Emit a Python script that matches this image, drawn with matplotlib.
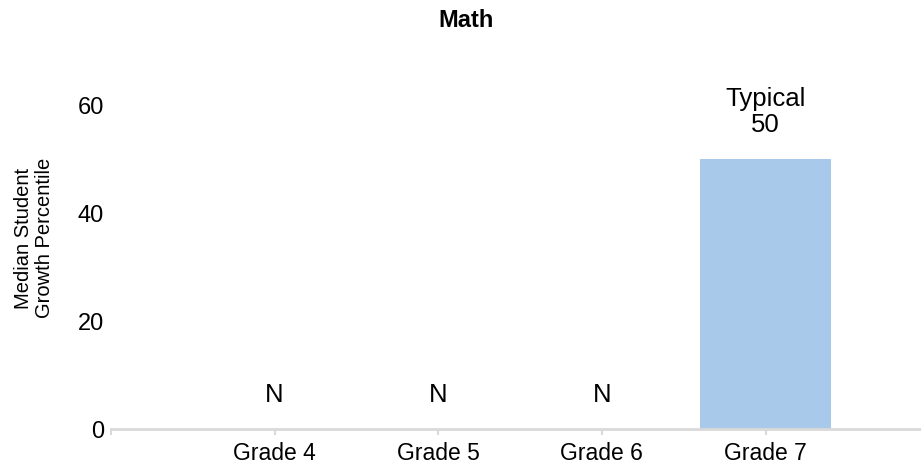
import matplotlib
matplotlib.use('Agg')
import matplotlib.pyplot as plt
import numpy as np

grades = ['Grade 4', 'Grade 5', 'Grade 6', 'Grade 7']
sgp = [np.nan, np.nan, np.nan, 50]
bar_labels = ['N', 'N', 'N', 'Typical\n50']
y_ticks = [0, 20, 40, 60]

plt.rcParams['font.family'] = ['Liberation Sans', 'DejaVu Sans']

fig = plt.figure(figsize=(9.21, 4.66), dpi=100)
ax = fig.add_axes([111 / 921, 37 / 466, 810 / 921, 351 / 466])

x = np.arange(1, len(grades) + 1)
heights = [0 if np.isnan(v) else v for v in sgp]
ax.bar(x, heights, width=0.8, color='#a8c9ea', zorder=2)

for xi, h, lab in zip(x, heights, bar_labels):
    ax.annotate(lab, (xi, h), xytext=(0, 16), textcoords='offset points',
                ha='center', va='bottom', fontsize=18.5, linespacing=1.1)

ax.set_xlim(0, 4.95)
ax.set_ylim(0, 65)
ax.set_xticks(np.concatenate([[0], x]))
ax.set_xticklabels([''] + grades, fontsize=16.5)
ax.set_yticks(y_ticks)
ax.set_yticklabels([str(t) for t in y_ticks], fontsize=17)

for s in ['top', 'right', 'left']:
    ax.spines[s].set_visible(False)
ax.spines['bottom'].set_color('#d9d9d9')
ax.spines['bottom'].set_linewidth(2)
ax.tick_params(axis='y', length=0, pad=5)
ax.tick_params(axis='x', length=4, width=1.5, color='#d9d9d9', pad=5)

# y label placed by hand, it sits a bit above the axes centre in the reference
fig.text(34 / 921, 1 - 238 / 466, 'Median Student\nGrowth Percentile', rotation=90,
         ha='center', va='center', multialignment='center', fontsize=14.5, linespacing=1.1)
fig.text(0.506, 0.955, 'Math', ha='center', va='center', fontsize=17, fontweight='bold')

fig.savefig('out.png', dpi=100)
